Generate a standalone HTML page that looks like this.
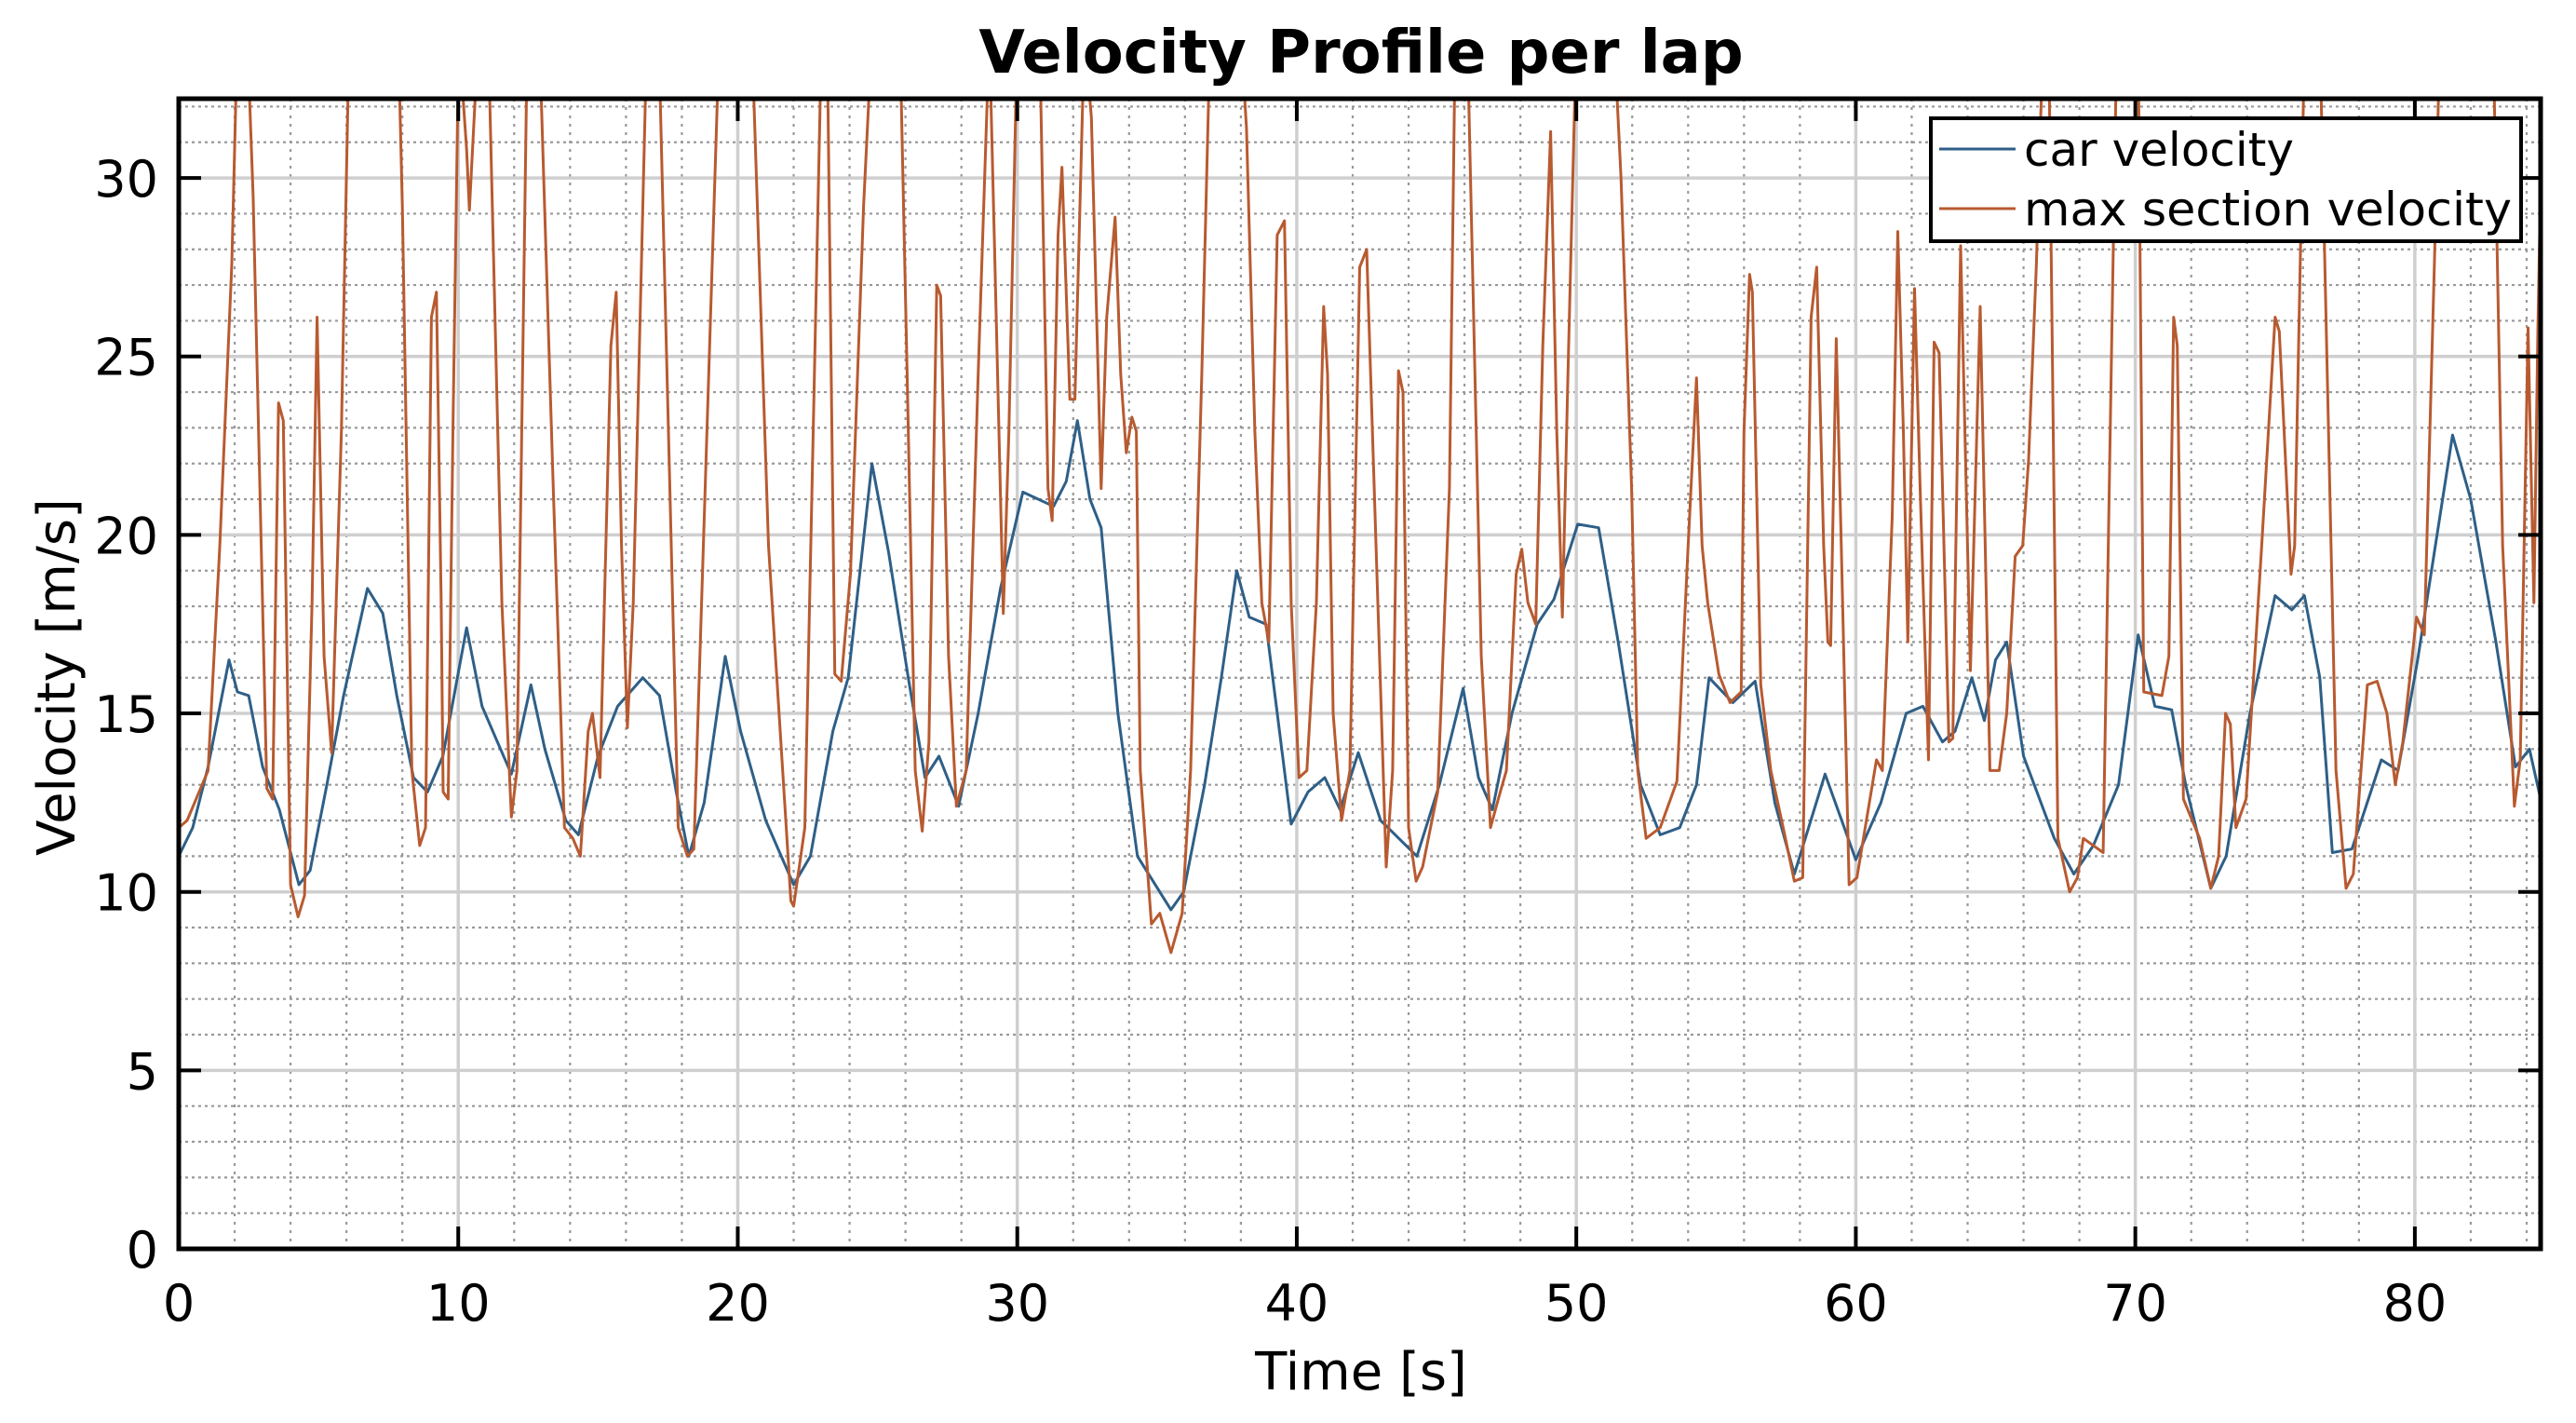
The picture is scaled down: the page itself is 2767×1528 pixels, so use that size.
<!DOCTYPE html>
<html><head><meta charset="utf-8"><style>
html,body{margin:0;padding:0;background:#fff;}
svg{display:block;font-family:"DejaVu Sans","Liberation Sans",sans-serif;}
</style></head><body>
<svg id="chart" width="2767" height="1528" viewBox="0 0 2767 1528" xmlns="http://www.w3.org/2000/svg">
<defs><clipPath id="plotclip"><rect x="192" y="106" width="2537" height="1235"/></clipPath></defs>
<text x="1462" y="78" text-anchor="middle" font-size="64" font-weight="bold">Velocity Profile per lap</text>
<g id="grid"></g>
<g id="series" clip-path="url(#plotclip)"></g>
<g id="axes"></g>
<text x="1462" y="1492" text-anchor="middle" font-size="56">Time [s]</text>
<text transform="translate(80,727) rotate(-90)" text-anchor="middle" font-size="56">Velocity [m/s]</text>
<g>
<rect x="2074" y="127" width="634" height="132" fill="#fff" stroke="#000" stroke-width="4"/>
<line x1="2083" y1="160" x2="2165" y2="160" stroke="#2e5f87" stroke-width="3"/>
<text x="2174" y="178" font-size="50">car velocity</text>
<line x1="2083" y1="224" x2="2165" y2="224" stroke="#b85a30" stroke-width="3"/>
<text x="2174" y="242" font-size="50" textLength="524" lengthAdjust="spacingAndGlyphs">max section velocity</text>
</g>
</svg>
<script>
const xTicks=[0,10,20,30,40,50,60,70,80];
const yTicks=[0,5,10,15,20,25,30];
const carT=[0,0.5,1.05,1.8,2.1,2.5,3.0,3.6,4.3,4.7,5.3,5.9,6.75,7.3,7.8,8.4,8.9,9.45,10.3,10.85,11.4,11.9,12.6,13.1,13.85,14.3,15.0,15.7,16.6,17.2,17.8,18.25,18.8,19.55,20.1,21.0,22.0,22.6,23.4,23.95,24.8,25.4,26.1,26.7,27.2,27.9,28.6,29.4,30.2,31.3,31.75,32.15,32.6,33.0,33.6,34.3,35.5,35.95,36.7,37.3,37.85,38.3,38.9,39.8,40.4,41.0,41.55,42.2,43.0,44.3,45.1,45.95,46.5,47.0,47.7,48.6,49.2,50.05,50.8,51.5,52.3,53.0,53.7,54.3,54.75,55.6,56.4,57.1,57.8,58.9,60.0,60.9,61.8,62.4,63.1,63.55,64.15,64.6,65.0,65.4,66.0,67.1,67.8,68.5,69.4,70.1,70.7,71.3,71.8,72.7,73.25,74.1,75.0,75.6,76.05,76.6,77.05,77.75,78.8,79.4,80.1,81.35,82.0,82.9,83.6,84.1,84.5];
const carV=[11.0,11.8,13.5,16.5,15.6,15.5,13.5,12.3,10.2,10.6,13.0,15.5,18.5,17.8,15.5,13.2,12.8,13.8,17.4,15.2,14.2,13.3,15.8,14.0,12.0,11.6,13.8,15.2,16.0,15.5,12.8,11.0,12.5,16.6,14.5,12.0,10.2,11.0,14.5,16.0,22.0,19.5,16.0,13.2,13.8,12.4,15.0,18.5,21.2,20.8,21.5,23.2,21.0,20.2,15.0,11.0,9.5,10.0,13.0,16.0,19.0,17.7,17.5,11.9,12.8,13.2,12.3,13.9,12.0,11.0,13.0,15.7,13.2,12.3,15.0,17.5,18.2,20.3,20.2,17.0,13.0,11.6,11.8,13.0,16.0,15.3,15.9,12.5,10.5,13.3,10.9,12.5,15.0,15.2,14.2,14.5,16.0,14.8,16.5,17.0,13.8,11.5,10.5,11.3,13.0,17.2,15.2,15.1,13.0,10.1,11.0,15.0,18.3,17.9,18.3,16.0,11.1,11.2,13.7,13.4,16.5,22.8,21.0,17.0,13.5,14.0,12.6];
const maxT=[0,0.3,1.05,1.47,1.9,2.1,2.45,2.66,3.15,3.36,3.57,3.74,4.0,4.27,4.5,4.77,4.95,5.2,5.47,5.82,6.1,7.85,8.0,8.34,8.62,8.83,9.04,9.22,9.39,9.46,9.64,9.81,10.02,10.3,10.4,10.72,11.07,11.56,11.9,12.1,12.47,12.9,13.4,13.8,14.1,14.37,14.65,14.8,15.07,15.46,15.65,15.84,16.05,16.26,16.75,17.17,17.87,18.2,18.43,19.34,20.5,21.1,21.9,22.0,22.4,22.7,23.0,23.2,23.47,23.7,24.03,24.5,24.8,25.8,26.06,26.35,26.6,26.84,27.12,27.26,27.54,27.82,28.17,28.6,29.0,29.2,29.5,29.7,30.0,30.8,31.1,31.25,31.46,31.6,31.88,32.06,32.4,32.65,33.0,33.2,33.5,33.7,33.9,34.1,34.26,34.4,34.8,35.1,35.5,35.9,36.2,36.6,36.9,38.0,38.2,38.5,38.75,39.0,39.3,39.56,39.8,40.08,40.36,40.7,40.96,41.1,41.3,41.6,41.9,42.25,42.5,42.9,43.2,43.43,43.64,43.8,44.0,44.27,44.5,45.04,45.46,45.67,46.1,46.6,46.93,47.28,47.5,47.85,48.05,48.27,48.55,48.8,49.08,49.3,49.5,49.7,50.0,51.35,51.6,51.98,52.2,52.5,53.0,53.6,54.0,54.3,54.5,54.7,55.1,55.5,55.9,56.0,56.2,56.3,56.6,56.96,57.4,57.8,58.1,58.4,58.6,58.85,59.0,59.1,59.3,59.48,59.76,60.04,60.74,60.95,61.3,61.5,61.7,61.86,62.1,62.3,62.6,62.8,62.98,63.33,63.47,63.75,64.1,64.45,64.8,65.13,65.4,65.7,65.97,66.18,66.46,66.7,66.9,67.23,67.65,67.93,68.14,68.85,69.34,70.1,70.3,70.95,71.2,71.37,71.5,71.72,72.3,72.7,72.98,73.23,73.4,73.6,73.96,74.52,75.0,75.15,75.57,75.7,76.06,76.6,77.18,77.54,77.8,78.3,78.65,79.0,79.3,79.57,80.06,80.34,80.7,80.9,82.8,83.14,83.56,83.77,84.05,84.26,84.4,84.6];
const maxV=[11.8,12.0,13.4,19.7,27.6,34,34,29.5,12.9,12.6,23.7,23.2,10.2,9.3,9.9,18.1,26.1,16.6,13.9,22.9,34,34,29.2,13.4,11.3,11.8,26.1,26.8,18.1,12.8,12.6,22.9,34,30.8,29.1,34,34,18.1,12.1,13.4,34,34,21.3,11.8,11.5,11.0,14.5,15.0,13.2,25.3,26.8,19.7,14.6,18.1,34,34,11.8,11.0,11.2,34,34,19.7,9.75,9.6,11.8,22.9,34,34,16.1,15.9,18.9,29.2,34,34,24.5,13.4,11.7,14.2,27.0,26.7,16.6,12.4,13.4,24.5,34,27.6,17.8,22.9,34,34,21.3,20.4,28.4,30.3,23.8,23.8,34,31.7,21.3,26.1,28.9,24.5,22.3,23.3,22.9,13.4,9.1,9.4,8.3,9.4,13.4,24.5,34,34,31.4,22.9,18.1,17.0,28.4,28.8,18.1,13.2,13.4,18.1,26.4,24.5,15.0,12.0,13.4,27.5,28.0,18.1,10.7,13.4,24.6,24.0,11.8,10.3,10.7,12.8,21.3,34,34,16.6,11.8,12.8,13.4,18.9,19.6,18.1,17.5,25.3,31.3,22.9,17.7,24.5,34,34,30.0,21.3,13.4,11.5,11.8,13.1,19.7,24.4,19.7,18.1,16.1,15.3,15.6,22.9,27.3,26.8,15.8,13.4,11.8,10.3,10.4,26.1,27.5,19.7,17.0,16.9,25.5,19.7,10.2,10.4,13.7,13.4,20.5,28.5,22.9,17.0,26.9,21.3,13.7,25.4,25.1,14.2,14.3,28.1,16.2,26.4,13.4,13.4,15.0,19.4,19.7,22.1,27.6,34,34,11.5,10.0,10.4,11.5,11.1,34,34,15.6,15.5,16.6,26.1,25.3,12.6,11.5,10.1,11.0,15.0,14.7,11.8,12.6,19.7,26.1,25.7,18.9,19.7,34,34,13.4,10.1,10.5,15.8,15.9,15.0,13.0,14.2,17.7,17.2,27.6,34,34,19.7,12.4,13.7,25.8,18.1,25.7,34];

const X0=192,X1=2729,XMAX=84.5,Y0=1341,Y1=106,YMAX=32.22;
function sx(t){return X0+(X1-X0)*t/XMAX;}
function sy(v){return Y0-(Y0-Y1)*v/YMAX;}
const NS='http://www.w3.org/2000/svg';
function mk(tag,attrs,parent){const e=document.createElementNS(NS,tag);for(const k in attrs)e.setAttribute(k,attrs[k]);parent.appendChild(e);return e;}
const grid=document.getElementById('grid'),axes=document.getElementById('axes'),series=document.getElementById('series');
for(let t=2;t<XMAX;t+=2){if(t%10===0)continue;const l=mk('line',{x1:sx(t),x2:sx(t),y1:Y1,y2:Y0,stroke:'#999','stroke-width':2.2,'stroke-dasharray':'3,6'},grid);

}
for(let v=1;v<YMAX;v+=1){if(v%5===0)continue;const l=mk('line',{x1:X0,x2:X1,y1:sy(v),y2:sy(v),stroke:'#999','stroke-width':2.2,'stroke-dasharray':'3,4'},grid);

}
xTicks.forEach(t=>{if(t===0)return;const l=mk('line',{x1:sx(t),x2:sx(t),y1:Y1,y2:Y0,stroke:'#cfcfcf','stroke-width':3.5},grid);

});
yTicks.forEach(v=>{if(v===0)return;const l=mk('line',{x1:X0,x2:X1,y1:sy(v),y2:sy(v),stroke:'#cfcfcf','stroke-width':3.5},grid);

});
function path(T,V,color,name){let d='';for(let i=0;i<T.length;i++){d+=(i?'L':'M')+sx(T[i]).toFixed(1)+','+sy(V[i]).toFixed(1);}
const p=mk('path',{d:d,fill:'none',stroke:color,'stroke-width':3,'stroke-linejoin':'round'},series);

}
path(carT,carV,'#2e5f87','car-velocity-line');
path(maxT,maxV,'#b85a30','max-section-velocity-line');
const fr=mk('rect',{x:X0,y:Y1,width:X1-X0,height:Y0-Y1,fill:'none',stroke:'#000','stroke-width':5},axes);


xTicks.forEach(t=>{
const a=mk('line',{x1:sx(t),x2:sx(t),y1:Y0,y2:Y0-24,stroke:'#000','stroke-width':4},axes);


const b=mk('line',{x1:sx(t),x2:sx(t),y1:Y1,y2:Y1+24,stroke:'#000','stroke-width':4},axes);


const tx=mk('text',{x:sx(t),y:1418,'text-anchor':'middle','font-size':54},axes);tx.textContent=t;

});
yTicks.forEach(v=>{
const a=mk('line',{x1:X0,x2:X0+24,y1:sy(v),y2:sy(v),stroke:'#000','stroke-width':4},axes);


const b=mk('line',{x1:X1,x2:X1-24,y1:sy(v),y2:sy(v),stroke:'#000','stroke-width':4},axes);


const tx=mk('text',{x:170,y:sy(v)+20,'text-anchor':'end','font-size':54},axes);tx.textContent=v;

});
</script>
</body></html>
